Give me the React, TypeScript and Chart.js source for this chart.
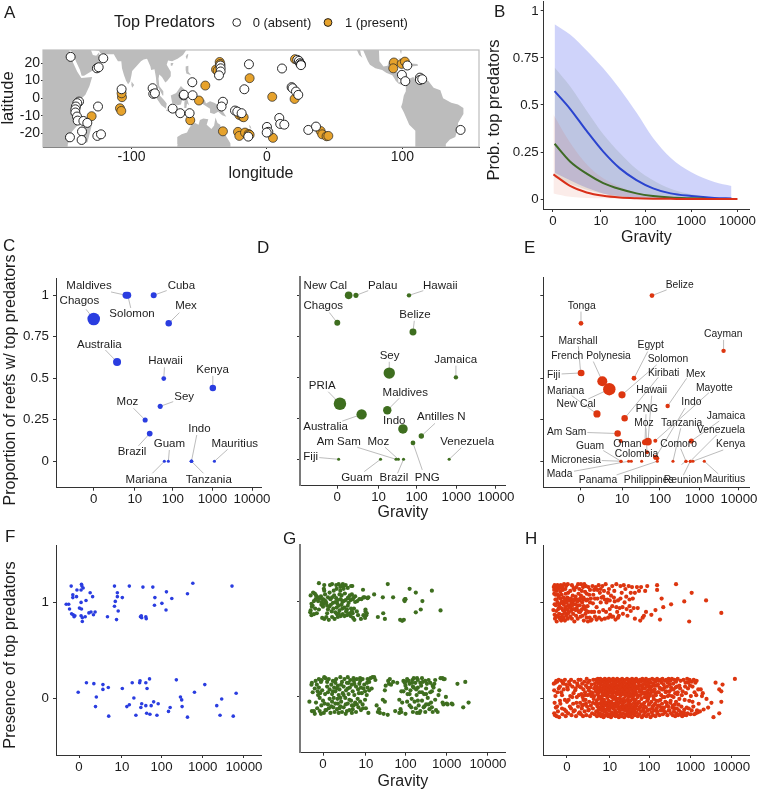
import React, { useEffect, useRef } from "react";
import { Chart, registerables } from "chart.js";

Chart.register(...registerables);

const FONT = "'Liberation Sans', Arial, sans-serif";
const TEXT = "#1c1c1c";

// shared axis labels
const gravityTicks = [0, 1.04, 2, 3, 4];
const gravityLabels = ["0", "10", "100", "1000", "10000"];
const proportionTicks = [0, 0.25, 0.5, 0.75, 1];
const proportionLabels = ["0", "0.25", "0.5", "0.75", "1"];
const presenceTicks = [0, 1];
const presenceLabels = ["0", "1"];
const lonTicks = [-100, 0, 100];
const latTicks = [-20, -10, 0, 10, 20];

// Panel A: sites, [longitude, latitude]
const sitesAbsent = [-144.9,23.5,-120.8,22.7,-125.5,17,-124.2,17.6,-138.7,-1.9,-140,-2.8,-141,-4.7,-141.4,-6.3,-141.4,-8.1,-140.2,-10.4,-139.7,-12.7,-135.5,-12.9,-132.6,-14,-136.5,-18.9,-136.8,-23.7,-145.4,-22.2,-125.2,-21.4,-122.5,-20.5,-124.7,-4.7,-107.3,5.1,-84.4,5.7,-83.9,2.5,-82.7,2.8,-69.6,-5.9,-64,-8.5,-57.1,-8.5,-55.1,9.1,-61.5,1.6,-61.3,2,-54.9,1.7,-32.5,-2,-33.5,-4.7,-34.4,18.6,-34.2,17,-34.2,15.2,-35.4,13,-13.3,19.3,-16.7,5.1,11.1,16.9,-23.6,-7,-21.9,-7.6,-18.7,-8.5,-13.8,-21.8,0,-16.3,1,-19.1,-0.2,-19.5,9.1,-11.2,9.8,-14.6,12.8,-15,30.5,-18,36.2,-16.1,18.2,6.3,18.9,5.7,21.4,3.8,23.1,1.9,22.4,21.8,23.6,21.2,24.4,19.9,25.1,19.3,25.1,18.8,99.6,13.3,102.1,9.7,103.6,18.6,112.9,11.7,112.9,10.4,114.6,10.8,142.9,-18];
const sitesPresent = [-129.4,-10.2,-107,0.6,-107.3,2.8,-108.5,-5.7,-107.5,-7.2,-56.6,-12.5,-50.2,-1.3,-45.5,7.2,-34.9,20.6,-34.4,19.5,-37.6,16.3,-36.4,15.7,-12.8,11.4,-32.5,-18.8,-20.4,-9.5,-18.2,-10.4,-17.2,-10.8,-21.4,-19.1,-20.4,-21.4,-16.2,-19.5,-13.5,-20.3,-12.8,-20.8,3.9,0.8,4.4,-22.5,20.7,22.2,20.4,-0.4,39.6,-18.6,40.8,-20.5,44,-21.6,45.3,-21.4,93.7,20.3,93.2,17,99.4,19.5,101.8,20.8];

// Panel A: coastlines, [real longitude, latitude]
const landPolygons = [
  [10,30,33,30,34,27.5,37,20,40,15,43,11.5,51,12,49,7,46,2,42,-1,40,-3,39,-7,40.5,-11,40.5,-15,36,-19,35,-23,33,-26,32.7,-30,10,-30],
  [49.3,-12,50.5,-16,47.5,-25,45,-25.5,43.5,-22,44.5,-16,47,-15],
  [35,30,35,27.5,37,25,39,21,42,16,43.2,12.8,45,12.8,52,16,55,17.5,59.5,22.5,56.5,24.5,56,26,54,24.2,51.5,24.5,50.5,26.5,49,30],
  [49,30,51,27.5,56,27,57,25.5,62,25,67,25,68,23.5,70,21,72.5,21,73,17,74.5,13,76,10,77.5,8,79,9.5,80,13,80.5,15.5,84,18.5,87,21,89,22,91.5,22.5,94,18,94.5,16,97,16.5,98,12,98.5,8,100.5,5,103,1.5,104,1.5,103.5,4,100.5,7,100,11,100.5,13.5,102.5,12,105,9,106.5,10,109,12.5,109,15,106,19,107,21.5,110,21,114,22.5,118,24.5,121,28,122,30],
  [80,9.5,82,7.5,80.5,6,79.8,8],
  [95.5,5.5,98,4,104,-1,106,-3,105.5,-6,102,-4,98.5,0],
  [105.5,-6.5,108.5,-6.5,114.5,-7.5,114.5,-8.7,108,-7.8,105.5,-7],
  [115,-8.3,120,-8.3,125,-8.5,127,-8.5,124,-10,119,-9.5],
  [109,1.5,113,3,116.5,7,119,5,118,1,116.5,-3.5,114,-4,110,-2.5],
  [119.5,-5.5,119,-2.5,120,1,125,1.5,121,0,122.5,-4,121,-3,120.5,-5.5],
  [120,18,122,18.5,122,15,124,13,120.5,14,120,16],
  [122,7,123.5,8.5,125.5,9.5,126.5,7,125.5,6,123.5,7],
  [121,25,122,25,121,22,120,23.5],
  [109,20,111,20,110,18.3,108.7,18.7],
  [131,-1,134,-0.8,135,-3,138,-1.7,141,-2.6,145,-4.3,147.5,-6,147,-7,150,-10.5,147,-9.7,144,-7.7,141,-9,138,-8.3,138,-6,134,-4,132,-3],
  [113.5,-30,114,-26,113.8,-22,117,-20.5,121,-19.5,122.5,-17,125,-14.5,127,-14,129.5,-15,130.5,-12.4,133,-11.5,136.7,-12,135.5,-15,139,-17.5,141,-15.5,142,-11,143.5,-14,145.5,-15,146.5,-19,149,-20.5,151,-23,153,-25.5,153.2,-30],
  [-115,30,-112,24.5,-109.5,23,-110.5,24.5,-112,30],
  [-110.5,30,-105.5,21,-104,19,-100,17,-95,16,-92,14.5,-87.5,13,-85.8,11,-85,10,-83,8.3,-80.5,7.5,-79,8.8,-77.5,7.5,-77.5,4,-79,1.5,-80,-2.5,-81,-5,-79,-8,-75,-15,-70.5,-18.5,-70.5,-30,-48.5,-30,-48,-26,-45,-23.5,-41,-22,-39.5,-18,-39,-14,-35,-9,-35,-5.5,-39,-3.5,-44,-2.5,-50,0,-52,4.5,-57,6,-61,10,-64,10.5,-68,10.5,-71,11,-72,12,-75,11,-77,8.7,-79.5,9.5,-83,9,-83.5,14.5,-87,16,-88.5,16,-88,21,-86.8,21.3,-90,21,-91,18.5,-94,18,-97,21,-97.5,30],
  [-85,22,-80,23,-74.5,20.3,-77.5,20,-78,21.5,-82,22.5],
  [-74,19.8,-69,19.5,-68.5,18.5,-74,18],
  [-83,30,-81,25,-80,30],
  [165,-21,167,-22.3,166,-22.3,164,-20.3],
  [157,-7,161,-9.5,162,-10.7,159,-9],
  [167,-15,168,-16,168.5,-17.5,167,-16.5],
  [177.5,-17.5,178.5,-17.6,178.5,-18.3,177.5,-18.2],
  [-156,20.2,-155,19.7,-155.6,19],
];

// Panel B: model fits, x is log10(gravity + 1)
const blueFitX = [0.035,0.37,0.73,1.09,1.45,1.81,2.17,2.55,3,3.5,3.87];
const blueFit = [0.574,0.48,0.362,0.252,0.163,0.101,0.057,0.03,0.016,0.006,0.003];
const blueUpper = [0.93,0.875,0.79,0.695,0.585,0.46,0.325,0.22,0.142,0.09,0.069];
const blueLower = [0.14,0.1,0.06,0.03,0.015,0.008,0.004,0.002,0.001,0.001,0];
const greenFitX = [0.035,0.37,0.73,1.09,1.45,1.81,2.17,2.55,3,3.33];
const greenFit = [0.294,0.2,0.135,0.085,0.053,0.03,0.016,0.008,0.004,0.002];
const greenUpper = [0.7,0.6,0.47,0.345,0.245,0.16,0.1,0.055,0.025,0.012];
const greenLower = [0.115,0.08,0.05,0.028,0.012,0.005,0.002,0.001,0.0005,0];
const redFitX = [0.01,0.37,0.73,1.09,1.45,1.81,2.17,2.55,3,3.5,4];
const redFit = [0.131,0.07,0.035,0.017,0.008,0.004,0.002,0.001,0,0,0];
const redUpper = [0.45,0.3,0.185,0.11,0.065,0.035,0.018,0.006,0.002,0.001,0];
const redLower = [0.03,0.012,0.006,0.004,0.002,0.001,0,0,0,0,0];

// Panel C
const cNames = ["Chagos","Maldives","Solomon","Cuba","Mex","Australia","Hawaii","Kenya","Sey","Moz","Brazil","Guam","Mariana","Indo","Tanzania","Mauritius"];
const cGravity = [0,0.817,0.86,1.516,1.895,0.59,1.77,3.01,1.68,1.3,1.415,1.886,1.785,2.47,2.47,3.05];
const cProportion = [0.857,1,1,1,0.831,0.598,0.498,0.442,0.331,0.249,0.167,0,0,0,0,0];
const cReefs = [49,15,15,11,13,20,7,13,8,8,10,3,3,4,4,3];
const cLayout = [[-14.3,-17.7,-7.7,-9.7],[-37,-9.7,-15,-3.3],[4.3,18.7,3,12.7],[27.7,-9.7,13,-4.7],[17.3,-17.3,10.7,-10.7],[-17.7,-17.3,-11.7,-12],[1.7,-17.3,0.7,-11.3],[-0.3,-17.7,0,-12],[24,-9.3,13,-4.7],[-17.7,-17.7,-11.7,-11.7],[-17.7,18.3,-11.3,12.3],[1,-17,1,-11.3],[-18,18.7,-12,12],[8,-32,5.3,-26.3],[17.3,18.7,12,12],[20.3,-17.3,13.3,-12]];

// Panel D
const dNames = ["New Cal","Palau","Hawaii","Chagos","Belize","Sey","Jamaica","PRIA","Maldives","Australia","Indo","Antilles N","PNG","Fiji","Am Sam","Moz","Brazil","Guam","Venezuela"];
const dGravity = [0.286,0.47,1.807,0,1.908,1.31,2.99,0.067,1.26,0.613,1.655,2.118,1.908,0.034,1.48,1.54,1.67,1.09,2.82];
const dProportion = [1,1,1,0.833,0.776,0.526,0.5,0.339,0.299,0.274,0.185,0.142,0.1,0,0,0,0,0,0];
const dReefs = [18,8,6,11,15,40,6,48,22,33,28,9,7,3,3,3,3,3,3];
const dLayout = [[-23.3,-9.7,null,null],[26.7,-9.7,12.3,-4.7],[31.3,-9.7,14.3,-4.7],[-14,-17.3,-8,-10.3],[2,-17.3,1.3,-11.3],[0.3,-17.7,0,-11.3],[-0.3,-17.3,0,-11.7],[-17.7,-18,-11.7,-12],[18,-17.7,12,-12],[-36,12.7,-19.3,6.7],[-8.7,-8.3,null,null],[20,-18.7,13.7,-12.7],[14.3,34.7,9.3,27],[-28,-2,-19.3,-1.7],[-57.3,-17,-38.7,-12],[-20,-17,-13.3,-12],[-9.7,19,-6,14],[-23.7,18.3,-16.3,12.3],[18,-17.3,12.3,-11.7]];

// Panel E
const eNames = ["Belize","Tonga","Cayman","Fiji","Marshall","French Polynesia","Egypt","New Cal","Solomon","Mariana","Kiribati","Mex","Am Sam","Hawaii","PNG","Oman","Mayotte","Moz","Indo","Colombia","Jamaica","Tanzania","Comoro","Philippines","Reunion","Venezuela","Kenya","Mauritius","Panama","Mada","Micronesia","Guam","",""];
const eGravity = [1.797,0,3.61,0.008,-0.008,0.54,1.342,0.717,1.038,0.405,1.105,2.194,0.928,1.696,1.62,1.004,1.882,1.671,1.89,1.932,2.793,2.329,2.658,2.658,2.768,2.768,2.835,3.122,1.932,1.207,1.013,1.013,1.274,1.536];
const eProportion = [0.998,0.831,0.665,0.532,0.532,0.482,0.5,0.434,0.4,0.285,0.259,0.333,0.167,0.118,0.114,0.122,0.124,0.054,0.024,0.018,0.122,0,0,0,0,0,0,0,0,0,0,0,0,0];
const eReefs = [7,7,6,13,11,31,7,48,16,16,13,6,13,18,11,5,5,5,8,5,8,3,3,3,3,3,3,3,3,3,3,3,3,3];
const eLayout = [[27.7,-10.3,14.7,-5.7],[0.7,-17,0,-11.7],[-0.3,-17,0,-11],[-27.7,2.7,-19.7,1],[-2.7,-31.7,-2.3,-26.7],[-11.3,-25.3,-9,-19.7],[16.7,-32.7,13.7,-26.7],[-33.3,15.3,-21,9.7],[46,-35.7,34.7,-30],[-31.3,-23,-25.3,-18.3],[39,-44.7,33.7,-41],[28,-32.3,19,-27.7],[-51,-1.7,-30.3,-1],[3.7,-51.3,3.7,-46],[2,-32.7,1,-28],[6.7,3,null,null],[59,-52.7,53.7,-48],[-3,-28.7,-1,-24],[35.7,-54.7,29.3,-49],[-20.7,-4.3,null,null],[34.7,-24.7,28,-20],[8.7,-37.7,7.7,-33],[-7.3,-17.3,-5.3,-12.7],[-37.3,19,-4.5,3.3],[-7.3,19.3,-7,14],[30.7,-31,26.3,-26.3],[37.7,-17,30.3,-11.3],[20,18.3,14,12.7],[-59.3,19.3,-40.7,13.7],[-69,12.7,-54.7,10],[-45,-1.3,-19.3,-0.7],[-31,-15.3,-17.7,-10.7],[null,null,null,null],[null,null,null,null]];

// Panel F: pairs of log10(gravity + 1), presence with jitter
const fTop = [-.19,1.17,-.15,1.08,-.15,1.05,-.31,.98,-.25,.98,-.23,.93,-.18,.88,-.14,.87,-.12,.85,-.1,.86,-.06,1.06,-.05,1.13,.06,1.19,.07,1.17,.1,1.15,.05,1.13,.05,1,.01,.94,.06,.93,.05,.86,.08,.84,.08,.8,.15,.85,.17,1.02,.27,1.1,.33,1.06,.24,.89,.29,.9,.35,.87,.39,.9,.69,.85,.86,1.17,.93,1.1,.93,1.06,.88,1.01,.86,.96,.95,.91,.91,.82,1.05,1.05,1.22,1.17,1.55,1.16,1.79,1.16,1.49,.85,1.51,.86,1.52,.84,1.62,.85,1.63,.83,1.84,1.05,1.83,.97,2.01,.99,2.12,1.11,2.11,.92,2.25,1.04,2.63,1.09,2.76,1.2,3.71,1.17];
const fBottom = [-.02,.06,.18,.16,.36,.15,.58,.14,.58,.09,.71,.11,.42,.01,.4,-.09,.72,-.19,1.05,.1,1.29,.16,1.33,0,1.16,-.09,1.22,-.07,1.38,-.18,1.48,.18,1.47,.16,1.62,.16,1.71,.2,1.65,.1,1.52,-.06,1.5,-.1,1.62,-.08,1.75,-.08,1.81,-.04,1.92,-.06,1.64,-.16,1.72,-.17,1.89,-.18,2.17,-.14,2.21,-.1,2.36,.19,2.46,.01,2.49,-.02,2.5,-.09,2.63,-.2,2.8,.06,3.05,.14,3.34,-.08,3.46,-.01,3.42,-.18,3.74,-.19,3.81,.05];

// Panel G
const gTop = [-.1,1.2,.03,1.18,.17,1.18,.22,1.19,.32,1.18,.38,1.19,.44,1.17,.48,1.19,.5,1.17,.55,1.18,.42,1.16,.68,1.17,.71,1.17,.02,1.14,.03,1.12,.33,1.14,.42,1.12,.5,1.14,.6,1.15,.97,1.13,-.3,1.07,-.24,1.1,-.2,1.09,-.17,1.07,-.12,1.05,-.08,1.04,-.12,1.01,-.04,1,0,1.03,.03,1.02,.06,1.01,.08,.99,.02,.98,-.04,.97,-.22,1.01,-.28,.98,-.27,.95,-.25,.96,-.3,.91,-.31,.89,-.19,.93,-.15,.88,-.22,.87,-.28,.86,-.02,.83,.03,.82,.08,.84,.14,.81,.12,1.05,.18,1.03,.22,1.05,.27,1.07,.32,1.04,.36,1.02,.3,1,.24,.99,.19,.97,.15,.95,.12,.92,.25,.93,.33,.94,.38,.96,.45,1.07,.43,1.03,.5,1.01,.55,1.02,.6,1.04,.62,1.05,.67,1.02,.72,1.03,.75,1.05,.65,1.07,.45,.97,.52,.94,.58,.92,.6,.96,.68,.93,.78,1,.83,1.01,.75,.93,.3,.89,.34,.87,.38,.88,.43,.85,.48,.87,.52,.85,.58,.86,.62,.87,.67,.85,.72,.88,.73,.83,.76,.81,.7,.9,.82,.9,1.01,1.05,1.08,1.04,1.1,1.05,1.24,1.08,1.03,.92,1.03,.9,1.05,.86,1.02,.83,1.06,.88,1.33,.84,1.45,1.05,1.46,.88,1.5,.82,1.57,1.19,1.7,1.05,1.87,.81,1.92,.8,1.96,.81,1.97,1.02,1.99,1.03,2,1.03,1.98,1.01,2.1,1.14,2.25,1.1,2.25,.89,2.37,.92,2.41,1.01,2.64,1.12,2.85,.91];
const gTopMore = [-.05,1.06,0,.95,.05,1.08,.1,.96,.16,1.1,.21,.9,.26,1.12,.35,.98,.4,1.08,.47,1,.53,1.09,.62,.99,.7,1.08,.78,1.06,.85,.86,.88,1.03,.93,1.03,.98,1.05,-.1,.92,-.18,1.03,.4,.91,.47,.93,.56,.9,.64,.88,.1,.88,.22,.84,.28,.82,.36,.84,.92,.82,.98,.86];
const gBottom = [-.33,-.06,-.28,.12,-.27,.14,-.27,-.16,-.25,.04,-.22,-.16,-.2,-.19,-.18,.16,-.17,-.07,-.15,.12,-.14,-.13,-.12,.01,-.1,.09,-.1,.18,-.08,-.16,-.07,.03,-.05,.15,-.05,-.19,-.03,.17,-.02,.06,0,-.05,.02,-.18,.03,.2,.05,.02,.06,.19,.08,-.15,.1,.1,.12,-.09,.12,.04,.14,.18,.16,-.03,.18,-.18,.2,.12,.22,-.06,.22,.02,.24,.16,.25,-.12,.27,.09,.28,-.17,.3,.05,.3,-.08,.32,.18,.34,-.14,.35,-.03,.36,.11,.38,-.18,.38,.01,.4,.07,.42,-.11,.42,.2,.44,-.06,.46,.15,.46,-.17,.48,.03,.5,-.12,.5,.1,.52,.18,.54,-.02,.55,-.19,.56,.06,.58,.14,.6,-.08,.6,.2,.62,.02,.64,-.15,.65,.09,.66,.17,.68,-.05,.7,.12,.7,-.18,.72,.05,.74,-.1,.75,.16,.76,.01,.78,-.07,.8,.1,.8,-.17,.82,.18,.84,-.03,.85,.07,.86,-.12,.88,.13,.9,.16,.9,-.06,.92,-.15,.94,.03,.96,-.09,.98,.08,1,.12,1.02,.05,1.04,-.13,1.06,.01,1.08,.09,1.1,-.18,1.12,.06,1.15,.19,1.2,.2,1.24,.2,1.27,.17,1.18,.08,1.3,-.1,1.33,-.17,1.36,-.14,1.38,-.18,1.45,-.04,1.47,-.19,1.5,-.06,1.5,.06,1.52,.11,1.57,-.2,1.58,.16,1.6,.13,1.62,.18,1.65,.12,1.7,.15,1.75,-.16,1.8,.14,1.85,-.18,1.88,-.14,1.9,-.17,1.92,-.07,1.95,.16,1.98,.14,1.85,-.04,1.9,.05,2,.15,2,-.19,2.02,.08,2.05,.02,2.08,.16,2.1,.13,2.1,-.1,2.12,.06,2.15,-.03,2.17,.17,2.18,.1,2.2,.19,2.22,-.06,2.24,.14,2.25,-.13,2.27,.01,2.28,-.18,2.3,.09,2.3,.17,2.32,-.1,2.34,.04,2.36,-.16,2.38,.11,2.4,-.05,2.42,.15,2.44,-.12,2.45,.02,2.48,.16,2.5,.08,2.5,-.09,2.52,.13,2.54,-.02,2.56,.17,2.58,-.14,2.6,.14,2.62,-.07,2.64,.05,2.66,-.17,2.68,.09,2.7,.13,2.72,-.04,2.74,-.15,2.78,-.17,2.8,.01,2.82,.06,2.85,.19,2.9,.19,2.92,.18,2.95,.18,2.9,-.07,2.92,-.09,2.98,-.01,3,-.08,3.02,-.09,3.12,-.08,3.14,-.09,3.26,.13,3.45,.15,3.4,-.12,3.53,-.07];
const gBottomMore = [-.2,.08,-.13,.05,-.04,-.1,.04,-.08,.1,.15,.14,-.13,.2,-.11,.26,-.02,.3,.14,.34,.08,.4,-.13,.44,.12,.5,.01,.55,-.09,.6,.08,.64,-.04,.7,-.1,.76,.13,.82,-.09,.87,.03,.92,.09,.97,-.13,1.02,-.04,1.07,.14,.16,.07,.24,.05,.36,-.08,.62,.14,.74,.19,.9,.19,.96,.18,1.08,.18,1.12,.15,-.08,-.02,.06,-.15,.28,.16,.42,-.02,.58,-.16,.72,-.14,1.95,.05,2,.11,2.04,-.06,2.1,.02,2.14,-.12,2.2,.09,2.26,.07,2.3,-.05,2.36,.14,2.4,.04,2.46,-.11,2.5,.02,2.56,-.09,2.6,.04,2.66,.11,2.72,.17,2.04,.18,2.16,.14,2.28,.19,2.4,.19,2.18,-.17,2.34,-.18,2.48,-.17,2.64,-.12];

// Panel H
const hTop = [-.33,.92,-.32,1.16,-.31,1.13,-.31,1.09,-.3,.87,-.3,1.18,-.29,.83,-.28,1.03,-.27,1.15,-.27,.97,-.26,.86,-.25,1.12,-.25,.8,-.24,1.17,-.23,1,-.22,1.14,-.22,.85,-.21,.93,-.2,1.06,-.2,1.17,-.19,.88,-.18,.98,-.17,1.15,-.17,.83,-.16,1.04,-.15,1.18,-.14,.94,-.14,.81,-.13,1.08,-.12,.87,-.12,1.01,-.11,1.16,-.1,.92,-.09,.84,-.08,1.05,-.08,.98,-.07,1.19,-.06,.89,-.05,1.02,-.05,.81,-.04,.95,-.03,1.09,-.02,1.17,-.02,.86,-.01,1,0,.93,.01,1.05,.02,.83,.02,1.19,.03,.97,.04,.89,.05,1.02,.07,.95,.08,.85,.09,1.04,.1,.91,.11,1,.12,1.18,.12,.83,.13,.97,.14,1.07,.15,.88,.16,1.02,.17,.93,.18,1.13,.18,.8,.2,.98,.21,1.06,.22,.86,.23,1.16,.24,.94,.25,1.01,.26,.83,.27,1.19,.28,1.09,.29,.9,.3,1.14,.31,.97,.32,1.04,.33,.85,.34,1.19,.35,.92,.36,1.12,.37,1,.38,.86,.39,1.16,.4,1.05,.41,.81,.42,1.19,.43,.95,.44,1.11,.45,.88,.46,1.17,.47,1.02,.48,.84,.5,.96,.51,.8,.52,.9,.55,.84,.56,1,.58,.81,.6,.82,.62,1.17,.64,1.08,.66,.9,.68,.85,.7,1.16,.72,.82,.74,1.04,.77,1.18,.78,.84,.8,1.1,.82,1,.84,.82,.86,1.17,.88,1.06,.9,1.12,.92,.83,.94,1.19,.96,1,.98,1.03,1,.84,1.02,1.14,1.04,1.02,1.05,.87,1.07,1.07,1.1,1.17,1.1,.96,1.12,.85,1.15,1.12,1.16,1.01,1.18,.82,1.2,1.19,1.22,.9,1.24,1.02,1.26,.86,1.28,.94,1.3,1.17,1.3,1.04,1.33,1.1,1.35,.95,1.36,.88,1.38,1.18,1.4,1,1.42,1.14,1.44,1.06,1.45,.93,1.47,.86,1.5,1.17,1.52,.96,1.52,1.03,1.55,1.1,1.55,.91,1.58,1.16,1.6,1.04,1.62,.94,1.65,1.1,1.65,.83,1.7,1.16,1.72,.94,1.75,1.12,1.78,.81,1.8,1.16,1.84,.84,1.87,.86,1.9,1.12,1.92,.9,1.95,1.17,2.05,.87,2.15,.92,2.19,1.18,2.19,1.13,2.26,.82,2.3,1.04,2.34,.95,2.53,.98,2.65,1.19,2.85,1.01,2.97,.8,3.03,1.1,3.38,1.02,3.75,.89];
const hTopMore = [-.28,1.08,-.25,1.03,-.22,1.08,-.19,.95,-.16,1.11,-.13,1,-.1,1.13,-.07,1,-.05,.92,-.02,1.03,.01,.88,.03,1.1,.06,.97,.08,1.12,.1,1.03,.12,.93,.14,.99,.16,1.15,.19,1.03,.21,.92,.23,1.03,.26,.97,.28,.91,.3,1.02,.32,.9,.34,1.07,.37,.93,.39,1.03,.41,.96,.44,1.03,.46,.92,.48,1.09,.5,1.03,.52,1.16,.54,1.08,.56,1.13,.58,1.04,.6,.9,.63,.99,.66,1.13,.68,1.04,.72,.95,.74,1.13,.78,.9,.82,1.14,.84,1.05,.88,.92,.92,1.03,.95,.9,1,1.1,1.04,.93,1.08,.85,1.14,1.05,1.2,.95,1.24,.84,-.3,.98,-.26,.91,-.23,1.18,-.18,.84,-.12,.84,-.08,.83,-.04,1.14,.02,.92];
const hBottom = [-.32,.15,-.31,.08,-.31,-.16,-.3,-.05,-.29,-.18,-.28,.16,-.27,-.1,-.26,.18,-.25,-.19,-.24,.17,-.23,.06,-.22,-.14,-.2,.19,-.19,-.2,-.17,.12,-.16,-.06,-.14,.18,-.12,.03,-.11,-.17,-.1,.16,-.08,.09,-.06,-.12,-.05,.19,-.03,-.19,-.02,.14,0,-.04,.02,.09,.03,-.16,.05,.17,.07,-.09,.08,.02,.1,.19,.11,-.18,.13,.12,.15,-.06,.16,.05,.18,.17,.19,-.13,.21,.1,.22,-.19,.24,.01,.25,.15,.27,-.09,.28,.19,.29,-.16,.31,.12,.32,-.05,.33,.19,.34,-.17,.35,.04,.36,-.11,.37,.15,.38,.01,.39,-.19,.4,.09,.41,-.07,.42,.17,.43,-.14,.44,.06,.45,-.02,.46,.13,.47,-.18,.48,.2,.49,-.09,.5,.03,.51,.16,.52,-.13,.53,.08,.54,-.04,.55,.18,.56,-.19,.57,.11,.58,-.08,.59,.02,.6,.14,.61,-.16,.62,.05,.63,-.11,.64,.19,.65,-.01,.66,.1,.67,-.17,.68,.15,.69,-.06,.7,.07,.7,.19,.71,-.14,.72,.12,.72,-.03,.73,.17,.73,-.19,.74,.04,.74,-.09,.75,.2,.75,-.15,.76,.09,.76,-.01,.77,.15,.77,-.12,.78,.06,.78,-.18,.79,.18,.79,-.06,.8,.11,.8,-.16,.81,.01,.81,.2,.82,-.1,.82,.14,.83,-.19,.83,.07,.84,-.04,.84,.17,.85,-.13,.85,.1,.86,.02,.86,-.17,.87,.19,.87,-.07,.88,.13,.88,-.11,.89,.05,.89,-.2,.9,.16,.9,-.02,.91,.09,.91,-.14,.92,.2,.92,-.08,.93,.03,.93,.12,.94,-.18,.94,.17,.95,-.05,.95,.07,.96,-.12,.96,.14,.97,.19,.97,-.16,.98,0,.98,.1,.99,-.09,.99,.16,1,-.19,1,.05,1.01,.13,1.01,-.03,1.02,.2,1.02,-.13,1.03,.08,1.03,-.07,1.04,.17,1.04,-.17,1.05,.02,1.05,.11,1.06,-.1,1.06,.19,1.07,-.2,1.07,.06,1.08,.14,1.08,-.04,1.09,-.15,1.09,.09,1.1,.18,1.1,-.08,1.11,.03,1.11,-.18,1.12,.12,1.12,.2,1.13,-.11,1.13,-.01,1.14,.16,1.14,.07,1.15,-.16,1.15,-.06,1.16,.1,1.16,.19,1.17,-.13,1.17,.01,1.18,-.19,1.18,.14,1.19,.05,1.19,-.09,1.2,.17,1.2,-.03,1.21,.11,1.21,-.15,1.22,.2,1.22,.04,1.23,-.07,1.23,-.18,1.24,.13,1.24,.08,1.25,-.11,1.25,.18,1.26,-.01,1.26,-.2,1.27,.15,1.27,.06,1.28,-.14,1.28,-.05,1.29,.1,1.29,.19,1.3,-.17,1.3,.02,1.31,.12,1.31,-.09,1.32,.17,1.32,-.03,1.33,.07,1.33,-.19,1.34,.2,1.34,-.12,1.35,.04,1.35,.14,1.36,-.06,1.36,-.16,1.37,.09,1.37,.18,1.38,-.01,1.38,-.1,1.39,.16,1.39,-.2,1.4,.06,1.4,.12,1.41,-.13,1.41,-.04,1.42,.19,1.42,.02,1.43,-.17,1.43,.1,1.44,.15,1.44,-.08,1.45,-.18,1.45,.04,1.46,.2,1.46,-.11,1.47,.08,1.47,-.02,1.48,.13,1.48,-.15,1.49,.17,1.49,-.06,1.5,.01,1.5,-.19,1.51,.11,1.51,.19,1.52,-.09,1.52,.05,1.53,-.14,1.53,.15,1.54,-.03,1.54,.09,1.55,.18,1.55,-.17,1.56,-.07,1.56,.03,1.57,.13,1.57,-.12,1.58,.2,1.58,-.2,1.59,.07,1.59,-.01,1.6,.16,1.6,-.1,1.61,.11,1.61,-.16,1.62,.02,1.62,.19,1.63,-.05,1.63,-.13,1.64,.14,1.64,.06,1.65,-.18,1.65,-.08,1.66,.17,1.66,.09,1.67,-.02,1.67,-.11,1.68,.2,1.68,.04,1.69,-.15,1.7,.12,1.7,-.06,1.71,.18,1.72,-.19,1.72,.01,1.73,.1,1.74,-.12,1.74,.16,1.75,-.04,1.76,.07,1.76,-.17,1.77,.19,1.78,-.09,1.78,.03,1.79,.13,1.8,-.14,1.8,.17,1.81,-.01,1.82,.09,1.82,-.2,1.83,.2,1.84,-.07,1.84,.05,1.85,.14,1.86,-.11,1.86,-.18,1.87,.18,1.88,.01,1.88,-.05,1.89,.1,1.9,-.15,1.9,.16,1.91,.06,1.92,-.1,1.92,.2,1.93,-.19,1.94,.03,1.94,.12,1.95,-.03,1.96,-.13,1.96,.18,1.97,.08,1.98,-.17,1.98,.15,1.99,-.07,2,.02,2,.19,2.01,-.12,2.02,.1,2.03,-.2,2.03,.05,2.04,.16,2.05,-.04,2.06,-.15,2.06,.12,2.07,.2,2.08,-.09,2.09,.07,2.09,-.18,2.1,.15,2.11,-.01,2.12,.19,2.12,-.13,2.13,.09,2.14,-.06,2.15,.17,2.15,-.19,2.16,.03,2.17,.13,2.18,-.11,2.19,.2,2.2,-.16,2.2,.06,2.21,.14,2.22,-.03,2.23,.18,2.24,-.08,2.25,-.18,2.26,.1,2.27,.19,2.28,-.13,2.29,.03,2.3,.16,2.31,-.06,2.32,.2,2.33,-.17,2.34,.09,2.35,.14,2.36,-.1,2.37,.01,2.38,.18,2.39,-.15,2.4,.06,2.41,.19,2.42,-.05,2.43,.12,2.44,-.18,2.45,.16,2.46,-.09,2.47,.2,2.48,.03,2.49,-.13,2.5,.14,2.51,.18,2.52,-.03,2.53,-.16,2.54,.09,2.55,.2,2.56,-.1,2.57,-.18,2.58,.15,2.59,.01,2.6,-.14,2.61,.19,2.62,-.07,2.63,-.19,2.64,.11,2.65,.17,2.66,-.16,2.67,-.11,2.68,.04,2.69,.2,2.7,-.18,2.72,-.13,2.73,.13,2.75,-.17,2.76,.18,2.78,-.09,2.8,-.19,2.81,.07,2.83,.19,2.84,-.15,2.86,-.02,2.88,.16,2.9,-.18,2.92,.2,2.94,.1,2.96,-.11,2.98,.19,3,-.17,3.03,.17,3.05,-.04,3.08,.19,3.1,.06,3.13,-.16,3.15,.18,3.18,-.15,3.2,-.06,3.25,.09,3.23,-.14,3.28,.02,3.3,.05,3.32,-.12,3.39,-.01,3.43,-.1,3.51,-.05,3.56,-.2,3.61,.16,3.7,.09,3.7,-.16,3.75,.07,3.75,-.04,3.78,.14,4.08,.2];
const hBottomMore = [-.28,.02,-.24,-.09,-.2,.1,-.17,-.03,-.14,.06,-.12,-.11,-.09,.15,-.05,-.02,-.02,-.14,.01,.11,.04,-.02,.07,.14,.1,-.11,.13,.01,.16,-.14,.2,.08,.23,-.05,.26,.13,.29,.03,.31,-.15,.34,.11,.37,-.08,.4,-.02,.43,.03,.46,-.06,.5,.11,.53,-.12,.56,.04,.6,.06,.63,-.05,.66,.02,.69,.12,.72,-.06,.74,.1,.77,.02,.79,-.1,.81,.08,.83,-.01,.85,-.08,.87,.04,.89,.09,.91,-.05,.93,-.13,.95,.11,.97,.03,.99,-.06,1.01,.08,1.03,-.12,1.05,-.04,1.07,.11,1.09,.01,1.11,-.07,1.13,.06,1.15,.13,1.17,-.06,1.19,.1,1.21,-.01,1.23,.07,1.25,-.05,1.27,-.1,1.29,.04,1.31,-.02,1.33,.12,1.35,-.08,1.37,.05,1.39,-.03,1.41,.08,1.43,-.09,1.45,.1,1.47,-.13,1.49,.06,1.51,-.04,1.53,.02,1.55,-.11,1.57,.09,1.59,-.14,1.61,.04,1.63,.11,1.65,-.02,1.67,.06,1.69,-.08,1.71,.03,1.73,-.05,1.75,.13,1.77,-.1,1.79,.07,1.81,-.07,1.83,.11,1.85,-.13,1.87,.05,1.89,-.09,1.91,.01,1.93,.13,1.95,.05,1.97,-.01,1.99,.12,2.01,-.06,2.03,.12,2.05,.08,2.07,-.11,2.09,.02,2.11,-.08,2.13,.13,2.15,.05,2.17,-.03,2.19,-.14,2.21,-.08,2.23,.06,2.25,.11,2.27,-.02,2.29,-.1,2.31,.09,2.33,.01,2.35,-.13,2.37,.11,2.39,-.04,2.41,.07,2.43,-.08,2.45,.02,2.47,-.13,2.49,.07,2.51,-.05,2.53,.11,2.55,.02,2.57,-.08,2.59,.09,2.61,-.11,2.63,.05,2.65,-.04,2.67,.12,2.69,.06,2.71,-.07,2.73,-.01,2.75,.1,2.77,-.15,2.79,.03,2.81,-.16,2.83,-.18,2.85,-.12,2.87,.12,2.89,.05,2.91,-.1,2.93,-.16,2.95,.16,2.97,-.03,2.99,.13,3.01,.02,3.03,-.13,3.05,.12,3.07,-.09,3.09,-.17,3.12,.16,3.14,.03,3.16,-.13,3.19,.09];

const BLUE = "#2a3de0";
const GREEN = "#3e6e1f";
const RED = "#dd3610";
const toPoints = (flat: number[]) => {
  const out: { x: number; y: number }[] = [];
  for (let i = 0; i < flat.length; i += 2) out.push({ x: flat[i], y: flat[i + 1] });
  return out;
};
const zipPoints = (xs: number[], ys: number[]) => xs.map((x, i) => ({ x, y: ys[i] }));
const plotLon = (lon: number) => (lon > 0 ? lon - 180 : lon + 180);
const reefRadius = (n: number) => 0.9 * Math.sqrt(n);

function curve(xs: number[], ys: number[], color: string, width: number, fill: any, bg: string) {
  return { data: zipPoints(xs, ys), showLine: true, borderColor: color, borderWidth: width, backgroundColor: bg, fill, pointRadius: 0, cubicInterpolationMode: "monotone" };
}
function jitter(flat: number[], color: string, r: number) {
  return { data: toPoints(flat), pointRadius: r, pointBackgroundColor: color, pointBorderWidth: 0 };
}
function bubbles(xs: number[], ys: number[], reefs: number[], color: string) {
  return { data: zipPoints(xs, ys), pointRadius: reefs.map(reefRadius), pointBackgroundColor: color, pointBorderWidth: 0, clip: false };
}

function labelPlugin(names: string[], layout: (number | null)[][], size: number) {
  return {
    id: "repelLabels",
    beforeDatasetsDraw(chart: any) {
      const c = chart.ctx, pts = chart.data.datasets[0].data;
      c.save(); c.strokeStyle = "#b4b4b4"; c.lineWidth = 0.9;
      layout.forEach((l, i) => {
        if (l[2] == null) return;
        const px = chart.scales.x.getPixelForValue(pts[i].x), py = chart.scales.y.getPixelForValue(pts[i].y);
        c.beginPath(); c.moveTo(px, py); c.lineTo(px + (l[2] as number), py + (l[3] as number)); c.stroke();
      });
      c.restore();
    },
    afterDatasetsDraw(chart: any) {
      const c = chart.ctx, pts = chart.data.datasets[0].data;
      c.save(); c.fillStyle = TEXT; c.font = `${size}px ${FONT}`; c.textAlign = "center"; c.textBaseline = "middle";
      layout.forEach((l, i) => {
        if (l[0] == null || !names[i]) return;
        const px = chart.scales.x.getPixelForValue(pts[i].x), py = chart.scales.y.getPixelForValue(pts[i].y);
        c.fillText(names[i], px + (l[0] as number), py + (l[1] as number));
      });
      c.restore();
    },
  };
}

function sideTitle(text: string, cx: number, cy: number, size: number) {
  return {
    id: "sideTitle",
    afterDraw(chart: any) {
      const c = chart.ctx;
      c.save(); c.translate(cx, cy); c.rotate(-Math.PI / 2);
      c.fillStyle = TEXT; c.font = `${size}px ${FONT}`; c.textAlign = "center"; c.textBaseline = "middle";
      c.fillText(text, 0, 0); c.restore();
    },
  };
}

const mapFrame = {
  id: "mapFrame",
  afterDatasetsDraw(chart: any) {
    const c = chart.ctx, a = chart.chartArea;
    c.save(); c.strokeStyle = "#bdbdbd"; c.lineWidth = 1.2;
    c.strokeRect(a.left, a.top, a.right - a.left, a.bottom - a.top);
    c.fillStyle = TEXT; c.textBaseline = "middle"; c.textAlign = "left";
    c.font = `16.2px ${FONT}`; c.fillText("Top Predators", 114, 23);
    c.font = `13px ${FONT}`; c.fillText("0 (absent)", 252.7, 23); c.fillText("1 (present)", 345, 23);
    c.lineWidth = 0.9; c.strokeStyle = "#111";
    c.beginPath(); c.arc(236.7, 22.5, 3.9, 0, 7); c.fillStyle = "#fff"; c.fill(); c.stroke();
    c.beginPath(); c.arc(328, 22.5, 3.9, 0, 7); c.fillStyle = "#e6a22c"; c.fill(); c.stroke();
    c.restore();
  },
};

type Panel = {
  area: { l: number; r: number; t: number; b: number };
  x: number[]; y: number[];
  xTicks: number[]; xLabels: string[];
  yTicks: number[]; yLabels: string[] | null;
  xTitle?: string; xTitleY?: number;
  yColor?: string; yWidth?: number; tick?: number; tickSize?: number; yPad?: number; xPad?: number;
  datasets: any[]; plugins?: any[];
};

function makeConfig(p: Panel) {
  const { area } = p;
  const titleBase = { color: TEXT, padding: 0, font: { family: FONT, size: 16, lineHeight: 1 } };
  const yLeft = Math.max(0, area.l - 50);
  const xBottom = p.xTitle ? (p.xTitleY as number) + 8 : area.b + 25;
  const tick = p.tick ?? 3;
  const tickFont = { family: FONT, size: p.tickSize ?? 13.3 };
  const zero = (s: any) => { s.paddingTop = s.paddingBottom = s.paddingLeft = s.paddingRight = 0; };
  return {
    type: "scatter",
    data: { datasets: p.datasets },
    plugins: p.plugins ?? [],
    options: {
      responsive: false, maintainAspectRatio: false, animation: false, devicePixelRatio: 1, events: [],
      layout: { padding: { left: yLeft, top: area.t, right: 760 - area.r, bottom: 792 - xBottom } },
      plugins: { legend: { display: false }, tooltip: { enabled: false }, title: { display: false } },
      scales: {
        x: {
          type: "linear", min: p.x[0], max: p.x[1],
          afterBuildTicks: (s: any) => { s.ticks = p.xTicks.map((value) => ({ value })); },
          afterFit: (s: any) => { s.height = xBottom - area.b; zero(s); },
          ticks: { color: TEXT, font: tickFont, padding: p.xPad ?? 1, maxRotation: 0, autoSkip: false, callback: (_v: any, i: number) => p.xLabels[i] },
          grid: { drawOnChartArea: false, drawTicks: true, tickLength: tick, color: "#333" },
          border: { color: "#333", width: 1 },
          title: { ...titleBase, display: !!p.xTitle, text: p.xTitle ?? "" },
        },
        y: {
          type: "linear", min: p.y[0], max: p.y[1],
          afterBuildTicks: (s: any) => { s.ticks = p.yTicks.map((value) => ({ value })); },
          afterFit: (s: any) => { s.width = area.l - yLeft; zero(s); },
          ticks: { display: !!p.yLabels, color: TEXT, font: tickFont, padding: p.yPad ?? 4, autoSkip: false, callback: (_v: any, i: number) => (p.yLabels ? p.yLabels[i] : "") },
          grid: { drawOnChartArea: false, drawTicks: true, tickLength: tick, color: "#333" },
          border: { color: p.yColor ?? "#333", width: p.yWidth ?? 1 },
          title: { display: false },
        },
      },
    },
  };
}

const panels: Panel[] = [
  {
    area: { l: 43, r: 479, t: 50, b: 147 }, x: [-165.3, 156.5], y: [-27.7, 27.4],
    xTicks: lonTicks, xLabels: lonTicks.map(String), yTicks: latTicks, yLabels: latTicks.map(String),
    xTitle: "longitude", xTitleY: 174, tick: 2, tickSize: 14, yPad: 1, xPad: 0,
    plugins: [mapFrame, sideTitle("latitude", 8, 98, 16.5)],
    datasets: [
      { data: toPoints(sitesAbsent), pointRadius: 4.5, pointBackgroundColor: "#fff", pointBorderColor: "#111", pointBorderWidth: 0.9, clip: false },
      { data: toPoints(sitesPresent), pointRadius: 4.5, pointBackgroundColor: "#e6a22c", pointBorderColor: "#222", pointBorderWidth: 0.7, clip: false },
      ...landPolygons.map((poly) => {
        const pts = toPoints(poly).map((q) => ({ x: plotLon(q.x), y: q.y }));
        pts.push(pts[0]);
        return { data: pts, showLine: true, borderWidth: 0, pointRadius: 0, fill: "shape", backgroundColor: "#bcbcbc" };
      }),
    ],
  },
  {
    area: { l: 543.7, r: 749, t: 1, b: 209 }, x: [-0.201, 4.25], y: [-0.053, 1.053],
    xTicks: gravityTicks, xLabels: gravityLabels, yTicks: proportionTicks, yLabels: proportionLabels,
    xTitle: "Gravity", xTitleY: 238, yPad: 2,
    plugins: [sideTitle("Prob. top predators", 494, 110, 16.5)],
    datasets: [
      curve(redFitX, redFit, "#d9301a", 2, false, "transparent"),
      curve(greenFitX, greenFit, "#3f6b26", 2, false, "transparent"),
      curve(blueFitX, blueFit, "#2b44cf", 2, false, "transparent"),
      curve(redFitX, redUpper, "transparent", 0, "+1", "rgba(220,70,40,0.10)"),
      curve(redFitX, redLower, "transparent", 0, false, "transparent"),
      curve(greenFitX, greenUpper, "transparent", 0, "+1", "rgba(70,100,60,0.13)"),
      curve(greenFitX, greenLower, "transparent", 0, false, "transparent"),
      curve(blueFitX, blueUpper, "transparent", 0, "+1", "rgba(70,85,235,0.26)"),
      curve(blueFitX, blueLower, "transparent", 0, false, "transparent"),
    ],
  },
  {
    area: { l: 56, r: 261.7, t: 278, b: 487.7 }, x: [-0.953, 4.245], y: [-0.159, 1.104],
    xTicks: gravityTicks, xLabels: gravityLabels, yTicks: proportionTicks, yLabels: proportionLabels,
    plugins: [labelPlugin(cNames, cLayout, 11.5), sideTitle("Proportion of reefs w/ top predators", 10.5, 380, 16)],
    datasets: [bubbles(cGravity, cProportion, cReefs, BLUE)],
  },
  {
    area: { l: 300, r: 505.7, t: 277, b: 485.7 }, x: [-0.94, 4.245], y: [-0.161, 1.112],
    xTicks: gravityTicks, xLabels: gravityLabels, yTicks: proportionTicks, yLabels: null,
    xTitle: "Gravity", xTitleY: 513, yColor: "#7a7a7a", yWidth: 2,
    plugins: [labelPlugin(dNames, dLayout, 11.5)],
    datasets: [bubbles(dGravity, dProportion, dReefs, GREEN)],
  },
  {
    area: { l: 543.3, r: 749.3, t: 277, b: 487.3 }, x: [-0.954, 4.261], y: [-0.157, 1.11],
    xTicks: gravityTicks, xLabels: gravityLabels, yTicks: proportionTicks, yLabels: null,
    plugins: [labelPlugin(eNames, eLayout, 10.3)],
    datasets: [bubbles(eGravity, eProportion, eReefs, RED)],
  },
  {
    area: { l: 56, r: 261.7, t: 545, b: 755 }, x: [-0.558, 4.43], y: [-0.596, 1.6],
    xTicks: gravityTicks, xLabels: gravityLabels, yTicks: presenceTicks, yLabels: presenceLabels,
    plugins: [sideTitle("Presence of top predators", 10.5, 655, 16.3)],
    datasets: [jitter(fTop, BLUE, 1.8), jitter(fBottom, BLUE, 1.8)],
  },
  {
    area: { l: 300, r: 505.7, t: 545, b: 752.7 }, x: [-0.558, 4.43], y: [-0.603, 1.606],
    xTicks: gravityTicks, xLabels: gravityLabels, yTicks: presenceTicks, yLabels: null,
    xTitle: "Gravity", xTitleY: 782, yColor: "#7a7a7a", yWidth: 2,
    datasets: [jitter(gTop, GREEN, 2.1), jitter(gTopMore, GREEN, 2.1), jitter(gBottom, GREEN, 2.1), jitter(gBottomMore, GREEN, 2.1)],
  },
  {
    area: { l: 543.3, r: 749.3, t: 545, b: 755 }, x: [-0.575, 4.43], y: [-0.596, 1.6],
    xTicks: gravityTicks, xLabels: gravityLabels, yTicks: presenceTicks, yLabels: null,
    datasets: [jitter(hTop, RED, 2.1), jitter(hTopMore, RED, 2.1), jitter(hBottom, RED, 2.1), jitter(hBottomMore, RED, 2.1)],
  },
];

const panelLetters: [string, number, number][] = [
  ["A", 4, 4], ["B", 494, 3], ["C", 3, 237], ["D", 257, 239], ["E", 524, 239], ["F", 5, 528], ["G", 283, 530], ["H", 525, 530],
];

export default function App() {
  const refs = useRef<(HTMLCanvasElement | null)[]>([]);
  useEffect(() => {
    const charts = panels.map((p, i) => new Chart(refs.current[i] as HTMLCanvasElement, makeConfig(p) as any));
    return () => charts.forEach((c) => c.destroy());
  }, []);
  return (
    <div style={{ position: "absolute", left: 0, top: 0, width: 760, height: 792, overflow: "hidden", background: "#fff", fontFamily: FONT }}>
      {panels.map((_, i) => (
        <canvas key={i} ref={(el) => { refs.current[i] = el; }} width={760} height={792} style={{ position: "absolute", left: 0, top: 0, width: 760, height: 792 }} />
      ))}
      {panelLetters.map(([t, l, y]) => (
        <div key={t} style={{ position: "absolute", left: l, top: y, fontSize: 17, lineHeight: "17px", color: TEXT }}>{t}</div>
      ))}
    </div>
  );
}
